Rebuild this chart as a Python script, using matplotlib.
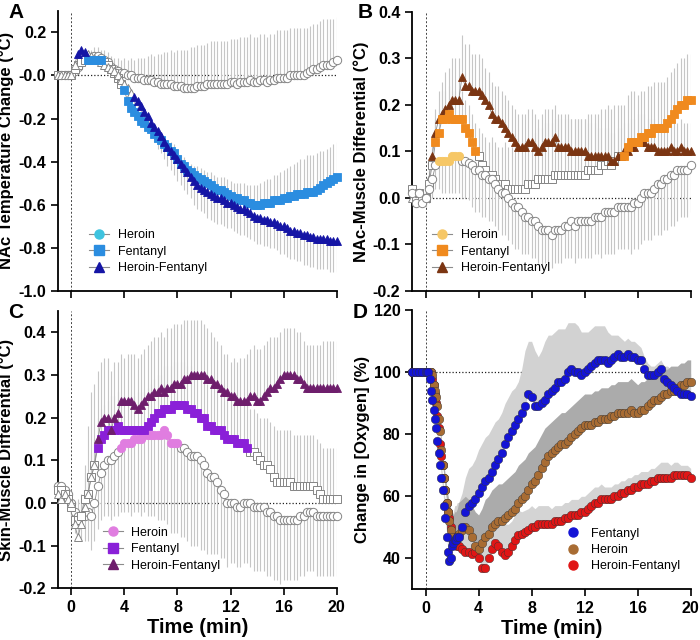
import numpy as np
import matplotlib
matplotlib.use("Agg")
import matplotlib.pyplot as plt
from matplotlib.lines import Line2D
from matplotlib.ticker import FormatStrFormatter

plt.rcParams['font.family'] = ['Liberation Sans', 'DejaVu Sans']
plt.rcParams['font.weight'] = 'bold'

# time grid (min) for panels A-C, one value every 15 s
t = np.arange(-1, 20.01, 0.25)
# panel D is sampled more finely during the fast drop
t_d = np.concatenate([np.arange(-1, 0.01, 0.25), np.arange(0.1, 2.55, 0.1),
                      np.arange(2.75, 20.01, 0.25)])

# ---------------- A: NAc temperature change ----------------
A_her = [0, 0, 0, 0,
         0.00, 0.02, 0.04, 0.06, 0.07, 0.08, 0.08, 0.09, 0.09, 0.08, 0.07, 0.06,
         0.04, 0.03, 0.02, 0.01, 0.01, 0.00, 0.00, -0.01, -0.01, -0.01, -0.02, -0.02,
         -0.02, -0.03, -0.03, -0.04, -0.04, -0.04, -0.04, -0.05, -0.05, -0.05, -0.06, -0.06,
         -0.06, -0.06, -0.05, -0.05, -0.05, -0.04, -0.04, -0.04, -0.04, -0.04, -0.04, -0.04,
         -0.03, -0.03, -0.04, -0.03, -0.03, -0.03, -0.02, -0.03, -0.03, -0.02, -0.02, -0.03,
         -0.02, -0.02, -0.01, -0.01, -0.01, -0.01, 0.00, 0.00, 0.00, 0.00, 0.00, 0.01,
         0.02, 0.03, 0.03, 0.04, 0.05, 0.05, 0.05, 0.06,
         0.07]
A_her_err = [0.01, 0.01, 0.01, 0.01,
             0.02, 0.03, 0.03, 0.03, 0.03, 0.03, 0.04, 0.04, 0.04, 0.04, 0.05, 0.05,
             0.05, 0.05, 0.06, 0.06, 0.07, 0.07, 0.08, 0.08, 0.09, 0.09, 0.10, 0.11,
             0.12, 0.12, 0.13, 0.14, 0.15, 0.15, 0.16, 0.16, 0.17, 0.17, 0.18, 0.18,
             0.19, 0.19, 0.19, 0.19, 0.19, 0.19, 0.20, 0.20, 0.20, 0.20, 0.20, 0.20,
             0.20, 0.20, 0.21, 0.21, 0.21, 0.21, 0.21, 0.21, 0.21, 0.21, 0.21, 0.21,
             0.21, 0.21, 0.22, 0.22, 0.22, 0.22, 0.22, 0.22, 0.22, 0.22, 0.22, 0.21,
             0.21, 0.21, 0.21, 0.21, 0.21, 0.21, 0.21, 0.20,
             0.20]
A_fen = [0, 0, 0, 0,
         0.00, 0.03, 0.05, 0.06, 0.07, 0.07, 0.07, 0.07, 0.07, 0.07, 0.06, 0.05,
         0.03, 0.01, -0.01, -0.04, -0.07, -0.12, -0.15, -0.17, -0.19, -0.21, -0.22, -0.24,
         -0.25, -0.27, -0.29, -0.30, -0.32, -0.33, -0.35, -0.36, -0.39, -0.41, -0.42, -0.44,
         -0.45, -0.46, -0.47, -0.48, -0.49, -0.50, -0.51, -0.52, -0.53, -0.53, -0.54, -0.55,
         -0.56, -0.57, -0.57, -0.58, -0.58, -0.59, -0.59, -0.60, -0.60, -0.60, -0.59, -0.59,
         -0.59, -0.58, -0.58, -0.58, -0.57, -0.57, -0.56, -0.56, -0.55, -0.55, -0.55, -0.54,
         -0.54, -0.54, -0.53, -0.52, -0.51, -0.50, -0.49, -0.48,
         -0.47]
A_fen_err = [0.01, 0.01, 0.01, 0.01,
             0.02, 0.02, 0.02, 0.02, 0.02, 0.02, 0.02, 0.02, 0.02, 0.02, 0.02, 0.02,
             0.03, 0.03, 0.03, 0.03, 0.03, 0.03, 0.03, 0.03, 0.03, 0.03, 0.03, 0.03,
             0.03, 0.03, 0.03, 0.03, 0.03, 0.03, 0.04, 0.04, 0.04, 0.04, 0.04, 0.04,
             0.04, 0.04, 0.05, 0.05, 0.05, 0.05, 0.06, 0.06, 0.06, 0.06, 0.07, 0.07,
             0.07, 0.07, 0.07, 0.08, 0.08, 0.08, 0.08, 0.09, 0.09, 0.10, 0.10, 0.11,
             0.11, 0.12, 0.12, 0.13, 0.13, 0.14, 0.14, 0.15, 0.15, 0.16, 0.16, 0.17,
             0.17, 0.17, 0.17, 0.17, 0.16, 0.16, 0.16, 0.16,
             0.16]
A_hf = [0, 0, 0, 0,
        0.00, 0.05, 0.10, 0.12, 0.11, 0.10, 0.09, 0.08, 0.07, 0.06, 0.05, 0.04,
        0.03, 0.02, 0.00, -0.02, -0.04, -0.06, -0.08, -0.10, -0.12, -0.14, -0.17, -0.19,
        -0.22, -0.24, -0.26, -0.28, -0.31, -0.33, -0.35, -0.37, -0.39, -0.41, -0.43, -0.45,
        -0.47, -0.49, -0.51, -0.52, -0.53, -0.54, -0.55, -0.56, -0.57, -0.57, -0.58, -0.59,
        -0.59, -0.60, -0.61, -0.62, -0.62, -0.63, -0.64, -0.65, -0.66, -0.66, -0.67, -0.67,
        -0.68, -0.68, -0.69, -0.70, -0.70, -0.71, -0.72, -0.72, -0.73, -0.73, -0.74, -0.74,
        -0.75, -0.75, -0.76, -0.76, -0.76, -0.76, -0.77, -0.77,
        -0.77]
A_hf_err = [0.01, 0.01, 0.01, 0.01,
            0.01, 0.02, 0.02, 0.02, 0.02, 0.02, 0.02, 0.02, 0.02, 0.02, 0.03, 0.03,
            0.03, 0.03, 0.04, 0.04, 0.04, 0.05, 0.05, 0.05, 0.06, 0.06, 0.06, 0.07,
            0.07, 0.07, 0.08, 0.08, 0.08, 0.09, 0.09, 0.09, 0.10, 0.10, 0.10, 0.10,
            0.10, 0.11, 0.11, 0.11, 0.11, 0.12, 0.12, 0.12, 0.12, 0.12, 0.12, 0.12,
            0.12, 0.12, 0.12, 0.12, 0.12, 0.12, 0.12, 0.12, 0.12, 0.12, 0.12, 0.12,
            0.12, 0.12, 0.12, 0.13, 0.13, 0.13, 0.13, 0.13, 0.13, 0.13, 0.14, 0.14,
            0.14, 0.14, 0.14, 0.14, 0.14, 0.14, 0.14, 0.14,
            0.14]

# ---------------- B: NAc-muscle differential ----------------
B_her = [0.01, -0.01, 0.01, -0.01,
         0.00, 0.02, 0.04, 0.07, 0.08, 0.08, 0.08, 0.08, 0.09, 0.09, 0.09, 0.08,
         0.08, 0.075, 0.07, 0.06, 0.06, 0.05, 0.05, 0.04, 0.04, 0.03, 0.02, 0.01,
         0.01, 0.00, -0.01, -0.02, -0.02, -0.03, -0.04, -0.04, -0.05, -0.05, -0.06, -0.07,
         -0.07, -0.07, -0.08, -0.07, -0.07, -0.07, -0.06, -0.06, -0.05, -0.06, -0.05, -0.05,
         -0.05, -0.05, -0.05, -0.04, -0.04, -0.04, -0.03, -0.03, -0.03, -0.03, -0.02, -0.02,
         -0.02, -0.02, -0.02, -0.01, -0.01, 0.00, 0.01, 0.01, 0.01, 0.02, 0.03, 0.03,
         0.04, 0.04, 0.05, 0.05, 0.06, 0.06, 0.06, 0.06,
         0.07]
B_her_err = [0.01, 0.01, 0.01, 0.01,
             0.02, 0.03, 0.04, 0.05, 0.06, 0.07, 0.07, 0.07, 0.08, 0.08, 0.08, 0.08,
             0.08, 0.08, 0.09, 0.09, 0.09, 0.09, 0.09, 0.09, 0.09, 0.09, 0.09, 0.09,
             0.09, 0.09, 0.09, 0.09, 0.09, 0.09, 0.08, 0.08, 0.08, 0.08, 0.08, 0.08,
             0.07, 0.07, 0.07, 0.07, 0.07, 0.07, 0.07, 0.07, 0.08, 0.08, 0.08, 0.08,
             0.08, 0.08, 0.08, 0.08, 0.08, 0.09, 0.09, 0.09, 0.09, 0.09, 0.09, 0.09,
             0.09, 0.09, 0.10, 0.10, 0.10, 0.10, 0.10, 0.10, 0.10, 0.10, 0.11, 0.11,
             0.11, 0.11, 0.11, 0.11, 0.11, 0.10, 0.10, 0.10,
             0.10]
B_fen = [0.02, 0.00, 0.01, 0.00,
         0.00, 0.03, 0.07, 0.12, 0.14, 0.17, 0.17, 0.18, 0.17, 0.17, 0.17, 0.17,
         0.15, 0.14, 0.12, 0.10, 0.09, 0.07, 0.06, 0.05, 0.05, 0.04, 0.03, 0.03,
         0.03, 0.02, 0.02, 0.02, 0.02, 0.02, 0.02, 0.03, 0.03, 0.03, 0.04, 0.04,
         0.04, 0.04, 0.04, 0.05, 0.05, 0.05, 0.05, 0.05, 0.05, 0.05, 0.05, 0.05,
         0.05, 0.06, 0.06, 0.06, 0.06, 0.07, 0.07, 0.08, 0.07, 0.08, 0.09, 0.09,
         0.09, 0.11, 0.12, 0.12, 0.12, 0.13, 0.13, 0.14, 0.14, 0.15, 0.15, 0.15,
         0.15, 0.16, 0.17, 0.18, 0.19, 0.20, 0.20, 0.21,
         0.21]
B_fen_err = [0.01, 0.01, 0.01, 0.01,
             0.02, 0.03, 0.04, 0.05, 0.05, 0.06, 0.06, 0.06, 0.06, 0.06, 0.06, 0.06,
             0.06, 0.06, 0.06, 0.06, 0.06, 0.07, 0.07, 0.07, 0.08, 0.08, 0.08, 0.08,
             0.09, 0.09, 0.09, 0.09, 0.10, 0.10, 0.10, 0.10, 0.10, 0.11, 0.11, 0.11,
             0.12, 0.12, 0.12, 0.12, 0.12, 0.12, 0.12, 0.12, 0.12, 0.12, 0.12, 0.12,
             0.12, 0.12, 0.12, 0.12, 0.12, 0.12, 0.12, 0.12, 0.12, 0.12, 0.11, 0.11,
             0.11, 0.11, 0.11, 0.11, 0.10, 0.10, 0.10, 0.10, 0.10, 0.10, 0.10, 0.10,
             0.10, 0.10, 0.10, 0.10, 0.10, 0.10, 0.10, 0.10,
             0.10]
B_hf = [0.00, 0.01, 0.00, 0.00,
        0.00, 0.04, 0.09, 0.14, 0.17, 0.18, 0.19, 0.20, 0.21, 0.21, 0.21, 0.26,
        0.24, 0.24, 0.23, 0.23, 0.23, 0.22, 0.21, 0.20, 0.18, 0.17, 0.17, 0.16,
        0.15, 0.14, 0.13, 0.12, 0.11, 0.11, 0.11, 0.12, 0.12, 0.11, 0.10, 0.11,
        0.12, 0.12, 0.12, 0.13, 0.11, 0.11, 0.11, 0.11, 0.10, 0.10, 0.10, 0.10,
        0.10, 0.09, 0.09, 0.09, 0.09, 0.09, 0.09, 0.09, 0.08, 0.08, 0.09, 0.09,
        0.10, 0.10, 0.11, 0.11, 0.12, 0.12, 0.12, 0.11, 0.11, 0.11, 0.10, 0.10,
        0.10, 0.10, 0.11, 0.10, 0.10, 0.11, 0.10, 0.10,
        0.10]
B_hf_err = [0.01, 0.01, 0.01, 0.01,
            0.02, 0.03, 0.04, 0.05, 0.06, 0.07, 0.08, 0.08, 0.09, 0.09, 0.09, 0.09,
            0.09, 0.09, 0.08, 0.08, 0.08, 0.08, 0.07, 0.07, 0.07, 0.07, 0.07, 0.07,
            0.07, 0.07, 0.07, 0.07, 0.07, 0.07, 0.07, 0.07, 0.07, 0.07, 0.07, 0.07,
            0.07, 0.07, 0.07, 0.07, 0.07, 0.07, 0.07, 0.07, 0.07, 0.07, 0.07, 0.07,
            0.07, 0.07, 0.07, 0.07, 0.06, 0.06, 0.06, 0.06, 0.06, 0.06, 0.06, 0.06,
            0.06, 0.06, 0.06, 0.06, 0.06, 0.06, 0.06, 0.06, 0.06, 0.06, 0.06, 0.06,
            0.06, 0.06, 0.06, 0.06, 0.06, 0.06, 0.06, 0.06,
            0.06]

# ---------------- C: skin-muscle differential ----------------
C_her = [0.04, 0.04, 0.03, 0.02,
         0.00, -0.02, -0.03, -0.03, -0.03, -0.02, -0.03, 0.00, 0.04, 0.07, 0.09, 0.10,
         0.10, 0.11, 0.12, 0.13, 0.14, 0.14, 0.14, 0.15, 0.15, 0.15, 0.16, 0.16,
         0.16, 0.16, 0.16, 0.16, 0.17, 0.16, 0.14, 0.14, 0.14, 0.13, 0.13, 0.12,
         0.11, 0.11, 0.11, 0.10, 0.09, 0.07, 0.06, 0.06, 0.05, 0.03, 0.02, 0.00,
         0.00, 0.00, -0.01, -0.01, 0.00, 0.00, 0.00, -0.01, -0.01, -0.01, -0.01, -0.02,
         -0.02, -0.03, -0.03, -0.04, -0.04, -0.04, -0.04, -0.04, -0.04, -0.03, -0.03, -0.02,
         -0.02, -0.02, -0.03, -0.03, -0.03, -0.03, -0.03, -0.03,
         -0.03]
C_her_err = [0.02, 0.02, 0.02, 0.02,
             0.03, 0.05, 0.06, 0.06, 0.06, 0.07, 0.08, 0.09, 0.10, 0.11, 0.12, 0.13,
             0.14, 0.14, 0.15, 0.15, 0.16, 0.16, 0.17, 0.17, 0.17, 0.18, 0.18, 0.19,
             0.19, 0.19, 0.20, 0.20, 0.21, 0.21, 0.21, 0.21, 0.21, 0.21, 0.21, 0.21,
             0.21, 0.21, 0.21, 0.21, 0.20, 0.19, 0.18, 0.18, 0.17, 0.16, 0.15, 0.15,
             0.14, 0.14, 0.14, 0.14, 0.14, 0.14, 0.15, 0.15, 0.15, 0.15, 0.15, 0.15,
             0.15, 0.15, 0.15, 0.15, 0.14, 0.14, 0.14, 0.14, 0.14, 0.14, 0.14, 0.14,
             0.14, 0.14, 0.14, 0.14, 0.14, 0.14, 0.14, 0.14,
             0.14]
C_fen = [0.03, 0.03, 0.02, 0.01,
         -0.01, -0.04, -0.04, -0.03, 0.01, 0.02, 0.06, 0.09, 0.13, 0.15, 0.16, 0.17,
         0.17, 0.17, 0.18, 0.17, 0.17, 0.17, 0.17, 0.17, 0.17, 0.17, 0.17, 0.18,
         0.19, 0.20, 0.21, 0.21, 0.22, 0.22, 0.22, 0.23, 0.23, 0.23, 0.23, 0.22,
         0.22, 0.21, 0.21, 0.20, 0.20, 0.18, 0.18, 0.17, 0.17, 0.17, 0.16, 0.15,
         0.15, 0.15, 0.14, 0.14, 0.14, 0.13, 0.12, 0.12, 0.11, 0.10, 0.09, 0.09,
         0.08, 0.06, 0.05, 0.05, 0.05, 0.05, 0.05, 0.04, 0.04, 0.04, 0.04, 0.04,
         0.04, 0.04, 0.03, 0.02, 0.01, 0.01, 0.01, 0.01,
         0.01]
C_fen_err = [0.02, 0.02, 0.02, 0.02,
             0.03, 0.04, 0.05, 0.05, 0.06, 0.06, 0.06, 0.06, 0.07, 0.07, 0.07, 0.07,
             0.08, 0.08, 0.08, 0.08, 0.08, 0.08, 0.08, 0.08, 0.09, 0.09, 0.09, 0.09,
             0.09, 0.09, 0.09, 0.09, 0.10, 0.10, 0.10, 0.10, 0.10, 0.10, 0.10, 0.10,
             0.10, 0.10, 0.10, 0.10, 0.10, 0.10, 0.10, 0.10, 0.10, 0.10, 0.10, 0.10,
             0.10, 0.10, 0.10, 0.10, 0.10, 0.10, 0.10, 0.10, 0.10, 0.10, 0.11, 0.11,
             0.11, 0.12, 0.12, 0.12, 0.12, 0.12, 0.12, 0.12, 0.12, 0.12, 0.12, 0.12,
             0.12, 0.12, 0.12, 0.12, 0.12, 0.12, 0.12, 0.12,
             0.12]
C_hf = [0.02, 0.01, 0.02, 0.01,
        0.00, -0.05, -0.08, -0.05, -0.01, 0.02, 0.06, 0.09, 0.15, 0.19, 0.20, 0.20,
        0.17, 0.20, 0.21, 0.24, 0.24, 0.24, 0.24, 0.23, 0.22, 0.23, 0.24, 0.25,
        0.25, 0.26, 0.26, 0.27, 0.26, 0.27, 0.27, 0.28, 0.28, 0.28, 0.29, 0.29,
        0.30, 0.30, 0.30, 0.30, 0.30, 0.29, 0.29, 0.28, 0.28, 0.27, 0.26, 0.26,
        0.25, 0.25, 0.24, 0.24, 0.24, 0.24, 0.25, 0.25, 0.24, 0.24, 0.25, 0.26,
        0.27, 0.27, 0.28, 0.29, 0.30, 0.30, 0.30, 0.30, 0.29, 0.29, 0.28, 0.27,
        0.27, 0.27, 0.27, 0.27, 0.27, 0.27, 0.27, 0.27,
        0.27]
C_hf_err = [0.02, 0.02, 0.02, 0.02,
            0.03, 0.04, 0.05, 0.06, 0.10, 0.16, 0.20, 0.19, 0.16, 0.14, 0.14, 0.14,
            0.14, 0.13, 0.12, 0.11, 0.10, 0.11, 0.11, 0.12, 0.12, 0.12, 0.12, 0.12,
            0.13, 0.13, 0.13, 0.13, 0.13, 0.14, 0.14, 0.14, 0.14, 0.14, 0.14, 0.14,
            0.13, 0.13, 0.13, 0.13, 0.12, 0.12, 0.11, 0.11, 0.10, 0.10, 0.09, 0.09,
            0.08, 0.09, 0.09, 0.10, 0.10, 0.11, 0.11, 0.12, 0.12, 0.12, 0.12, 0.12,
            0.12, 0.12, 0.11, 0.11, 0.11, 0.11, 0.11, 0.11, 0.11, 0.11, 0.10, 0.10,
            0.10, 0.10, 0.10, 0.10, 0.11, 0.11, 0.11, 0.11,
            0.11]

# ---------------- D: change in [oxygen] (%) ----------------
D_fen = [100, 100, 100, 100, 100,
         100, 100, 98, 94, 91, 88, 85, 82, 78, 74,
         70, 66, 62, 57, 53, 47, 42, 39, 40, 44,
         45, 46, 46, 47, 47,
         50, 55, 57, 58, 59,
         61, 63, 65, 66, 68, 70, 72, 74, 77, 79, 81, 83, 85, 87, 89, 93,
         92, 89, 89, 90, 91, 93, 94, 95, 97, 97, 98, 100, 101, 100, 100, 99,
         100, 101, 102, 103, 104, 104, 104, 103, 104, 105, 106, 105, 105, 106, 105, 105,
         104, 104, 101, 99, 99, 99, 100, 101, 98, 97, 96, 95, 94, 93, 93, 93,
         92.5]
D_fen_err = [0.5, 0.5, 0.5, 0.5, 0.5,
             0.5, 0.5, 1, 1, 1.5, 2, 2, 2, 3, 3,
             3, 4, 4, 5, 5, 6, 7, 8, 9, 10,
             10, 11, 11, 11, 11,
             11, 11, 12, 12, 13,
             14, 14, 14, 14, 14, 14, 13, 13, 13, 13, 13, 12, 12, 14, 18, 17,
             18, 18, 16, 17, 19, 19, 18, 18, 17, 17, 16, 16, 15, 16, 15, 14,
             13, 12, 12, 12, 11, 11, 11, 10, 8, 7, 6, 6, 5, 5, 5, 5,
             5, 4, 4, 4, 3, 3, 3, 3, 4, 5, 5, 6, 6, 7, 7, 7,
             7]
D_her = [100, 100, 100, 100, 100,
         100, 100, 100, 100, 99, 96, 94, 92, 89, 85,
         81, 75, 70, 66, 62, 58, 55, 52, 49, 47,
         46, 46, 46, 47, 48,
         49, 50, 49, 47, 44,
         43, 45, 47, 48, 50, 51, 52, 52, 53, 54, 55, 56, 58, 59, 60, 62,
         64, 65, 67, 69, 71, 73, 74, 75, 76, 77, 77, 78, 79, 80, 81, 82,
         83, 83, 83, 84, 84, 85, 85, 85, 86, 86, 87, 87, 87, 87, 88, 87,
         87, 88, 88, 89, 90, 91, 91, 92, 93, 93, 94, 94, 95, 96, 96, 97,
         97]
D_her_err = [0.5, 0.5, 0.5, 0.5, 0.5,
             0.5, 0.5, 0.5, 0.5, 1, 1, 1, 2, 2, 2,
             3, 3, 3, 4, 4, 5, 5, 6, 7, 8,
             8, 9, 9, 9, 10,
             10, 10, 10, 10, 11,
             11, 11, 12, 12, 12, 12, 12, 12, 12, 12, 12, 12, 12, 12, 12, 12,
             11, 11, 11, 11, 11, 10, 10, 10, 10, 10, 10, 10, 10, 10, 10, 10,
             10, 10, 10, 10, 10, 10, 10, 10, 10, 10, 10, 10, 10, 10, 10, 10,
             9, 9, 9, 9, 9, 9, 9, 9, 8, 8, 8, 8, 7, 7, 7, 7,
             7]
D_hf = [100, 100, 100, 100, 100,
        100, 100, 100, 100, 98, 96, 93, 90, 86, 82,
        77, 73, 70, 66, 62, 58, 55, 53, 50, 47.5,
        46, 45, 45, 44, 44,
        43, 42, 42, 41.5, 42,
        40, 37, 37, 40, 43, 45, 44, 42, 41, 42, 44, 46, 47.5, 48, 48.5, 49,
        50, 50, 51, 51, 51, 51, 51, 52, 52, 52, 53, 53, 54, 54, 54, 55,
        55, 56, 57, 58, 58, 59, 59, 59, 59, 60, 60, 61, 61, 62, 62, 63,
        63, 64, 64, 64, 65, 65, 66, 66, 66, 66, 66, 67, 67, 67, 67, 67,
        66]
D_hf_err = [0.5, 0.5, 0.5, 0.5, 0.5,
            0.5, 0.5, 0.5, 0.5, 1, 1, 1, 2, 2, 2,
            2, 3, 3, 3, 4, 4, 4, 5, 5, 5,
            5, 5, 5, 6, 6,
            6, 6, 6, 6, 7,
            8, 10, 12, 12, 12, 11, 10, 10, 10, 9, 8, 8, 8, 7, 7, 7,
            7, 6, 6, 6, 6, 6, 5, 5, 5, 5, 5, 5, 5, 5, 5, 5,
            5, 5, 5, 5, 5, 5, 4, 4, 4, 4, 4, 4, 4, 4, 4, 4,
            4, 4, 4, 4, 4, 4, 4, 5, 5, 5, 4, 4, 4, 3, 3, 3,
            3]

# time windows (min) where the marker is drawn filled (significant)
A_her_sig = []
A_fen_sig = [(1.25, 2.25), (4.0, 20)]
A_hf_sig = [(0.5, 1.0), (4.75, 20)]
B_her_sig = [(1.0, 2.5)]
B_fen_sig = [(0.75, 3.75), (15.0, 20)]
B_hf_sig = [(0.5, 20)]
C_her_sig = [(3.75, 8.0)]
C_fen_sig = [(2.0, 13.25)]
C_hf_sig = [(2.0, 20)]

labels = ['Heroin', 'Fentanyl', 'Heroin-Fentanyl']
D_labels = ['Fentanyl', 'Heroin', 'Heroin-Fentanyl']

BAR = '#c6c6c6'
LINE = '#8c8c8c'
W, H = 700, 640


def box(l, r, top, bot):
    return [l / W, 1 - bot / H, (r - l) / W, (bot - top) / H]


def sig_mask(sig):
    m = np.zeros(len(t), dtype=bool)
    for a, b in sig:
        m |= (t >= a - 1e-6) & (t <= b + 1e-6)
    return m


def plot_series(ax, y, err, sign, sig, color, marker, ms):
    y = np.asarray(y, float)
    err = np.asarray(err, float)
    ax.vlines(t, y, y + sign * err, colors=BAR, lw=0.8, zorder=1)
    ax.plot(t, y, color=LINE, lw=0.6, zorder=2)
    m = sig_mask(sig)
    ax.plot(t[~m], y[~m], ls='none', marker=marker, ms=ms, mfc='white',
            mec='#858585', mew=0.7, zorder=3, clip_on=False)
    ax.plot(t[m], y[m], ls='none', marker=marker, ms=ms, mfc=color,
            mec=color, mew=0.6, zorder=4, clip_on=False)


def style(ax, ylabel, show_x):
    for s in ['top', 'right']:
        ax.spines[s].set_visible(False)
    for s in ['left', 'bottom']:
        ax.spines[s].set_linewidth(1.3)
    ax.tick_params(direction='out', length=5, width=1.2, labelsize=11.5)
    ax.set_xlim(-1, 20)
    ax.set_xticks([0, 4, 8, 12, 16, 20])
    ax.axvline(0, color='#444444', lw=0.7, ls=(0, (2, 2)), zorder=0)
    ax.set_ylabel(ylabel, fontsize=12, fontweight='bold', labelpad=3)
    if show_x:
        ax.set_xlabel('Time (min)', fontsize=14.5, fontweight='bold', labelpad=2)
    else:
        ax.tick_params(labelbottom=False)


def add_legend(ax, colors, markers, names, anchor, line=True):
    handles = []
    for c, mk in zip(colors, markers):
        handles.append(Line2D([], [], color=LINE if line else 'none', lw=0.8,
                              marker=mk, mfc=c, mec=c, ms=6.5))
    ax.legend(handles, names, loc='lower left',
              bbox_to_anchor=anchor, frameon=False, handlelength=1.6,
              labelspacing=0.35, handletextpad=0.7,
              prop={'weight': 'normal', 'size': 9})


fig = plt.figure(figsize=(7, 6.4), dpi=100)

# A
axA = fig.add_axes(box(58, 336.7, 10.7, 291))
cA = ['#3ec3df', '#2b8de0', '#1515a5']
plot_series(axA, A_her, A_her_err, 1, A_her_sig, cA[0], 'o', 6)
plot_series(axA, A_fen, A_fen_err, 1, A_fen_sig, cA[1], 's', 5.6)
plot_series(axA, A_hf, A_hf_err, -1, A_hf_sig, cA[2], '^', 6)
axA.hlines(0, 0, 20, colors='#222222', lw=0.9, ls=(0, (1, 1.6)), zorder=0)
axA.set_ylim(-1.0, 0.3)
axA.set_yticks(np.arange(-1.0, 0.21, 0.2))
axA.yaxis.set_major_formatter(FormatStrFormatter('%.1f'))
style(axA, 'NAc Temperature Change (°C)', False)
add_legend(axA, cA, ['o', 's', '^'], labels, (0.07, 0.02))

# B
axB = fig.add_axes(box(412.3, 690.7, 11.7, 291))
cB = ['#f6c766', '#f08a1e', '#7b3512']
plot_series(axB, B_hf, B_hf_err, 1, B_hf_sig, cB[2], '^', 6)
plot_series(axB, B_fen, B_fen_err, 1, B_fen_sig, cB[1], 's', 5.6)
plot_series(axB, B_her, B_her_err, -1, B_her_sig, cB[0], 'o', 6)
axB.hlines(0, 0, 20, colors='#222222', lw=0.9, ls=(0, (1, 1.6)), zorder=0)
axB.set_ylim(-0.2, 0.4)
axB.set_yticks(np.arange(-0.2, 0.41, 0.1))
axB.yaxis.set_major_formatter(FormatStrFormatter('%.1f'))
style(axB, 'NAc-Muscle Differential (°C)', False)
add_legend(axB, cB, ['o', 's', '^'], labels, (0.03, 0.02))

# C
axC = fig.add_axes(box(58, 336.7, 311, 588.3))
cC = ['#e07de0', '#8a20d8', '#6e1e6c']
plot_series(axC, C_her, C_her_err, -1, C_her_sig, cC[0], 'o', 6)
plot_series(axC, C_fen, C_fen_err, 1, C_fen_sig, cC[1], 's', 5.6)
plot_series(axC, C_hf, C_hf_err, 1, C_hf_sig, cC[2], '^', 6)
axC.hlines(0, 0, 20, colors='#222222', lw=0.9, ls=(0, (1, 1.6)), zorder=0)
axC.set_ylim(-0.2, 0.45)
axC.set_yticks(np.arange(-0.2, 0.41, 0.1))
axC.yaxis.set_major_formatter(FormatStrFormatter('%.1f'))
style(axC, 'Skin-Muscle Differential (°C)', True)
add_legend(axC, cC, ['o', 's', '^'], labels, (0.12, 0.02))

# D
axD = fig.add_axes(box(412.3, 690.7, 310.3, 589.3))
cD = ['#1414d6', '#a86c33', '#e01616']
axD.fill_between(t_d, D_fen, np.add(D_fen, D_fen_err), color='#d2d2d2', lw=0, zorder=1)
axD.fill_between(t_d, D_hf, np.add(D_hf, D_hf_err), color='#d4d4d4', lw=0, zorder=1)
axD.fill_between(t_d, D_her, np.add(D_her, D_her_err), color='#ababab', lw=0, zorder=1.1)
for y, c in [(D_hf, cD[2]), (D_her, cD[1]), (D_fen, cD[0])]:
    axD.plot(t_d, y, ls='none', marker='o', ms=6.2, mfc=c, mec='#333333',
             mew=0.3, zorder=3, clip_on=False)
axD.hlines(100, 0, 20, colors='#222222', lw=0.9, ls=(0, (1, 1.6)), zorder=0)
axD.set_ylim(30, 120)
axD.set_yticks([40, 60, 80, 100, 120])
style(axD, 'Change in [Oxygen] (%)', True)
add_legend(axD, cD, ['o', 'o', 'o'], D_labels, (0.5, 0.02), line=False)

# panel letters
for x, y, s in [(8, 18, 'A'), (358, 18, 'B'), (8, 318, 'C'), (353, 318, 'D')]:
    fig.text(x / W, 1 - y / H, s, fontsize=15, fontweight='bold')

fig.savefig('out.png', dpi=100)
